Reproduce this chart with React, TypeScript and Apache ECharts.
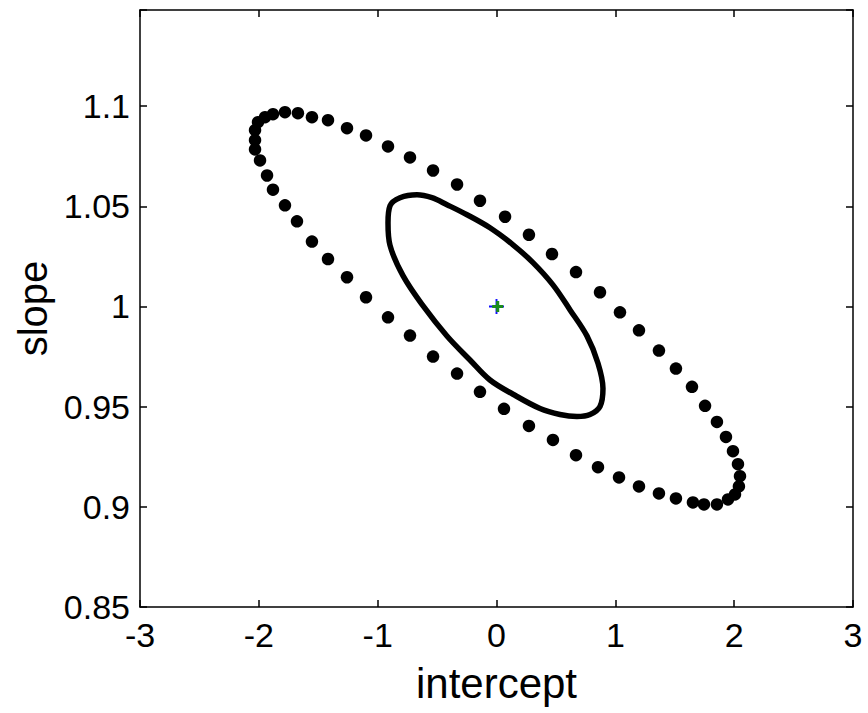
import React, { useEffect, useRef } from "react";
import * as echarts from "echarts";

// Outer confidence region (dotted)
const outerX = [
  -1.931, -1.881, -1.78, -1.679, -1.553, -1.418, -1.258, -1.098, -0.913, -0.728,
  -0.534, -0.332, -0.139, 0.063, 0.273, 0.475, 0.669, 0.854, 1.031, 1.199,
  1.367, 1.51, 1.653, 1.746, 1.855, 1.948, 2.007, 2.04, 2.049, 2.032,
  1.99, 1.931, 1.855, 1.755, 1.645, 1.51, 1.367, 1.199, 1.039, 0.871,
  0.669, 0.467, 0.273, 0.072, -0.139, -0.332, -0.534, -0.728, -0.913, -1.098,
  -1.258, -1.418, -1.553, -1.671, -1.78, -1.881, -1.948, -2.007, -2.032, -2.032,
  -2.032, -1.99,
];
const outerY = [
  1.0654, 1.0583, 1.0505, 1.0425, 1.0324, 1.0237, 1.0146, 1.0046, 0.9946, 0.9855,
  0.975, 0.9665, 0.9574, 0.9489, 0.9404, 0.9334, 0.9258, 0.9198, 0.9147, 0.9102,
  0.9067, 0.9042, 0.9022, 0.9012, 0.9012, 0.9037, 0.9062, 0.9102, 0.9153, 0.9213,
  0.9278, 0.9349, 0.9424, 0.9504, 0.9599, 0.969, 0.978, 0.9881, 0.9971, 1.0071,
  1.0172, 1.0262, 1.0358, 1.0448, 1.0528, 1.0609, 1.0679, 1.0744, 1.0799, 1.0854,
  1.089, 1.093, 1.0945, 1.0965, 1.097, 1.096, 1.0945, 1.092, 1.088, 1.083,
  1.0784, 1.0729,
];

// Inner region (solid contour)
const innerX = [
  -0.913, -0.896, -0.812, -0.669, -0.543, -0.417, -0.248, -0.055, 0.139, 0.307,
  0.475, 0.619, 0.762, 0.854, 0.896, 0.871, 0.787, 0.677, 0.534, 0.366,
  0.139, -0.055, -0.223, -0.417, -0.619, -0.787, -0.896, -0.913,
];
const innerY = [
  1.0418, 1.0503, 1.0543, 1.0558, 1.0543, 1.0508, 1.0458, 1.0393, 1.0308, 1.0219,
  1.0108, 0.9983, 0.9852, 0.9717, 0.9591, 0.9501, 0.9461, 0.9451, 0.9461, 0.9491,
  0.9562, 0.9633, 0.9733, 0.9853, 1.0004, 1.0154, 1.0305, 1.0418,
];

// Estimate markers
const trueValue = [0, 1];
const estimate = [0.01, 1];

const xTicks = [-3, -2, -1, 0, 1, 2, 3];
const yTicks = [0.85, 0.9, 0.95, 1, 1.05, 1.1];

const PLUS_THIN = "path://M-0.9,-7H0.9V-0.9H7V0.9H0.9V7H-0.9V0.9H-7V-0.9H-0.9Z";
const PLUS_THICK = "path://M-1.4,-5H1.4V-1.4H5V1.4H1.4V5H-1.4V1.4H-5V-1.4H-1.4Z";

export default function App() {
  const ref = useRef<HTMLDivElement>(null);
  useEffect(() => {
    if (!ref.current) return;
    const chart = echarts.init(ref.current, undefined, { renderer: "svg" });
    const font = "'Liberation Sans', Arial, sans-serif";
    const isTick = (arr: number[]) => (v: number) =>
      arr.some((t) => Math.abs(t - v) < 1e-6) ? String(Number(v.toFixed(2))) : "";
    const frameLine = { show: true, onZero: false, lineStyle: { color: "#000", width: 1.5 } };
    const tick = { show: true, inside: true, length: 7, lineStyle: { color: "#000", width: 1.5 } };
    chart.setOption({
      animation: false,
      backgroundColor: "#fff",
      grid: { left: 140, right: 15, top: 10, bottom: 106, containLabel: false },
      xAxis: [
        {
          type: "value", min: -3, max: 3, interval: 1, position: "bottom",
          axisLine: frameLine, axisTick: tick, splitLine: { show: false },
          axisLabel: { color: "#000", fontSize: 34, fontFamily: font, margin: 11, formatter: isTick(xTicks) },
          name: "intercept", nameLocation: "middle", nameGap: 55,
          nameTextStyle: { color: "#000", fontSize: 42, fontFamily: font },
        },
        {
          type: "value", min: -3, max: 3, interval: 1, position: "top",
          axisLine: frameLine, axisTick: tick, splitLine: { show: false },
          axisLabel: { show: false },
        },
      ],
      yAxis: [
        {
          type: "value", min: 0.85, max: 1.148, interval: 0.05, position: "left",
          axisLine: frameLine, axisTick: tick, splitLine: { show: false },
          axisLabel: { color: "#000", fontSize: 34, fontFamily: font, margin: 10, formatter: isTick(yTicks) },
          name: "slope", nameLocation: "middle", nameGap: 86, nameRotate: 90,
          nameTextStyle: { color: "#000", fontSize: 40, fontFamily: font },
        },
        {
          type: "value", min: 0.85, max: 1.148, interval: 0.05, position: "right",
          axisLine: frameLine, axisTick: tick, splitLine: { show: false },
          axisLabel: { show: false },
        },
      ],
      series: [
        {
          type: "scatter",
          data: outerX.map((x, i) => [x, outerY[i]]),
          symbol: "circle", symbolSize: 12.5,
          itemStyle: { color: "#000", opacity: 1 },
          silent: true,
        },
        {
          type: "line",
          data: innerX.map((x, i) => [x, innerY[i]]),
          showSymbol: false, smooth: 0.35,
          lineStyle: { color: "#000", width: 5.5 },
          silent: true,
        },
        {
          type: "scatter",
          data: [trueValue],
          symbol: PLUS_THIN, symbolSize: 15,
          itemStyle: { color: "#1010ff", opacity: 1 },
          silent: true, z: 5,
        },
        {
          type: "scatter",
          data: [estimate],
          symbol: PLUS_THICK, symbolSize: 11,
          itemStyle: { color: "#1a8c1a", opacity: 1 },
          silent: true, z: 6,
        },
      ],
    });
    return () => chart.dispose();
  }, []);
  return (
    <div
      ref={ref}
      style={{ position: "fixed", left: 0, top: 0, width: 868, height: 713, background: "#fff" }}
    />
  );
}
